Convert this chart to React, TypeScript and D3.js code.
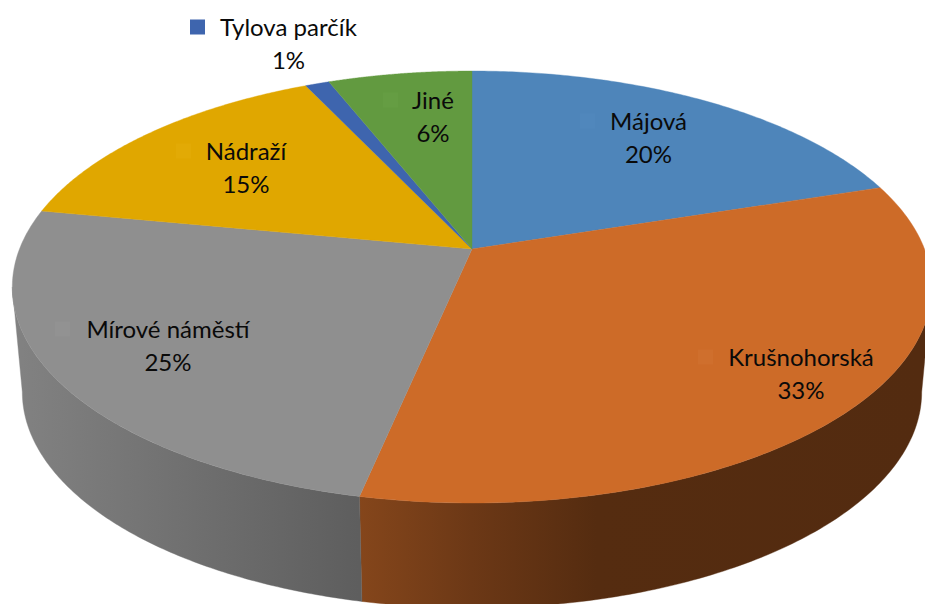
import React from "react";
import * as d3 from "d3";

const categories = ["Májová", "Krušnohorská", "Mírové náměstí", "Nádraží", "Tylova parčík", "Jiné"];
const values = [20, 33.3, 24.7, 15, 1, 6];
const percentLabels = ["20%", "33%", "25%", "15%", "1%", "6%"];
const topColors = ["#4e85ba", "#cd6b28", "#8f8f8f", "#e0a700", "#3e65ae", "#629a40"];
const keyColors = ["#5087bc", "#cf6f2d", "#929292", "#e2aa05", "#3e65ae", "#659d43"];
const wallFills = ["#3a6389", "url(#wallOrange)", "url(#wallGrey)", "#a67c00", "#2c4a80", "#487130"];
const labelCenters: [number, number][] = [[648.5, 130], [801, 366], [168, 338], [246, 160], [288.5, 36], [433, 109]];
const labelKeyX = [580, 698, 55, 176, 190, 383];

const W = 925, H = 604;
const cx = 472, cy = 249, a = 452.5, b = 209.3, k = 0.176;
const maxT = 460, centerTopY = 287;
const botCx = 472, botCy = 392, botRx = 450;

function project(theta: number): [number, number] {
  const x = Math.sin(theta), y = -Math.cos(theta), w = 1 - k * y;
  return [cx + (a * x) / w, cy + (b * y) / w];
}
function projectBottom(theta: number): [number, number] {
  const [X, Y] = project(theta);
  return [botCx + ((X - cx) * botRx) / maxT, botCy + (Y - centerTopY)];
}
const samples = (s: number, e: number) => d3.range(0, 121).map((i) => s + ((e - s) * i) / 120);
const line = d3.line<[number, number]>();

const wallStart = (Math.PI / 180) * (90 + (Math.asin(k) * 180) / Math.PI);
const wallEnd = 2 * Math.PI - wallStart;

export default function App() {
  const arcs = d3.pie<number>().sort(null)(values);
  return (
    <svg width={W} height={H} viewBox={`0 0 ${W} ${H}`} style={{ position: "absolute", left: 0, top: 0, background: "#fff" }}>
      <defs>
        <linearGradient id="wallOrange" gradientUnits="userSpaceOnUse" x1={358} x2={925} y1={0} y2={0}>
          <stop offset="0" stopColor="#85461b" />
          <stop offset="0.2" stopColor="#6c3816" />
          <stop offset="0.42" stopColor="#552c10" />
          <stop offset="1" stopColor="#532b10" />
        </linearGradient>
        <linearGradient id="wallGrey" gradientUnits="userSpaceOnUse" x1={12} x2={358} y1={0} y2={0}>
          <stop offset="0" stopColor="#828282" />
          <stop offset="1" stopColor="#5e5e5e" />
        </linearGradient>
      </defs>
      {arcs.map((d, i) => {
        const s = Math.max(d.startAngle, wallStart), e = Math.min(d.endAngle, wallEnd);
        if (e <= s) return null;
        const pts = [...samples(s, e).map(project), ...samples(s, e).reverse().map(projectBottom)];
        return <path key={i} d={line(pts) + "Z"} fill={wallFills[i]} stroke={wallFills[i]} strokeWidth={0.4} />;
      })}
      {arcs.map((d, i) => {
        const pts: [number, number][] = [[cx, cy], ...samples(d.startAngle, d.endAngle).map(project)];
        return <path key={i} d={line(pts) + "Z"} fill={topColors[i]} stroke={topColors[i]} strokeWidth={0.4} />;
      })}
      {categories.map((c, i) => {
        const [tx, ty] = labelCenters[i];
        return (
          <g key={c} fontFamily="Lato, Carlito, sans-serif" fontSize={24} fill="#0a0a0a">
            <rect x={labelKeyX[i]} y={ty - 16.5} width={15} height={15} fill={keyColors[i]} />
            <text x={tx} y={ty} textAnchor="middle">{c}</text>
            <text x={tx} y={ty + 33} textAnchor="middle">{percentLabels[i]}</text>
          </g>
        );
      })}
    </svg>
  );
}
